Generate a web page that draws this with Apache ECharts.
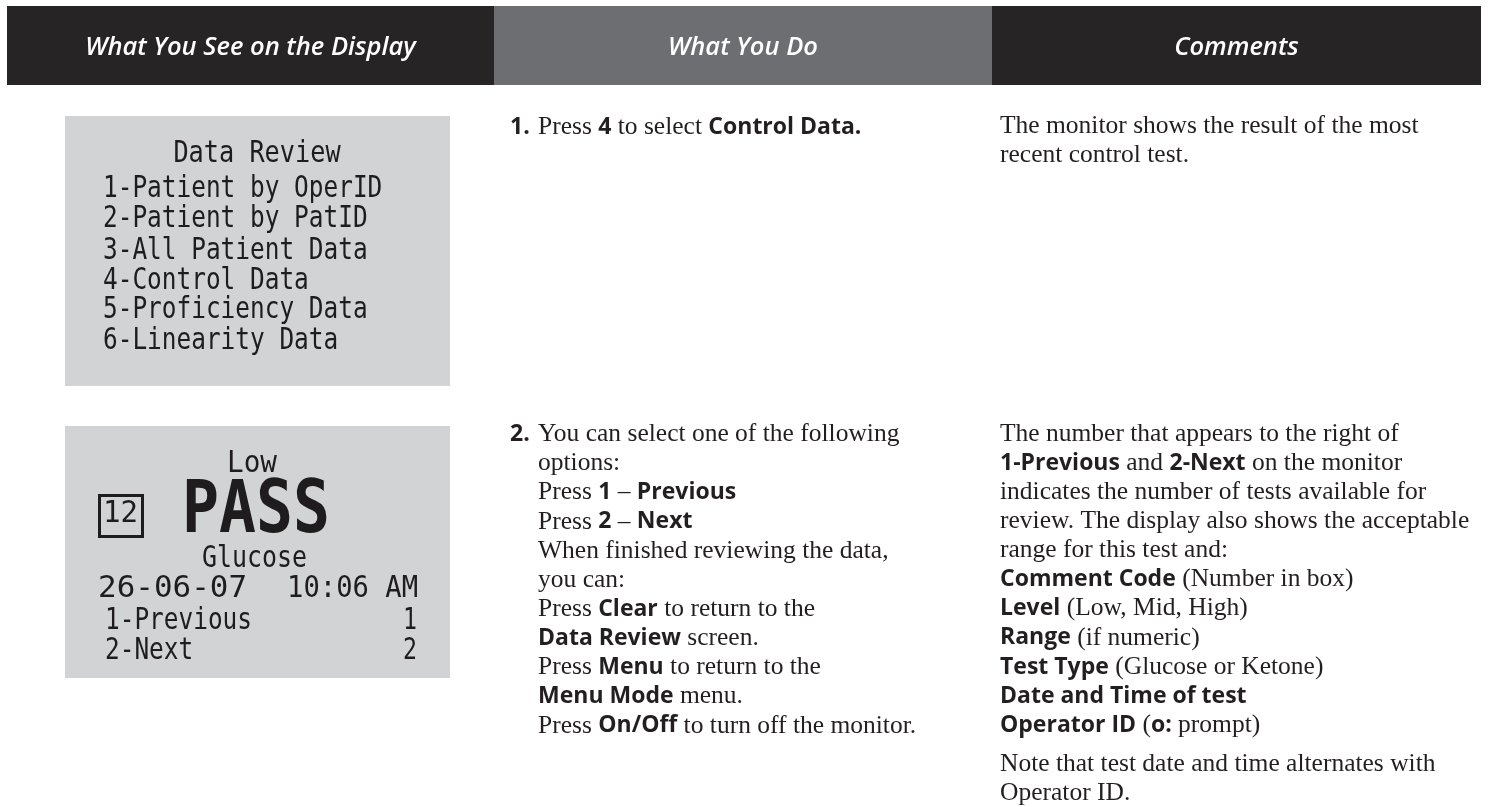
<!DOCTYPE html>
<html><head><meta charset="utf-8">
<script src="https://cdn.jsdelivr.net/npm/echarts@6/dist/echarts.min.js"></script>
<style>html,body{margin:0;padding:0;background:#fff}#chart{width:1489px;height:807px}</style>
</head><body><div id="chart"></div>
<script>
// ---------- content ----------
const headers = ['What You See on the Display', 'What You Do', 'Comments'];
const menuTitle = 'Data Review';
const menuItems = ['1-Patient by OperID', '2-Patient by PatID', '3-All Patient Data', '4-Control Data', '5-Proficiency Data', '6-Linearity Data'];
const controlLevel = 'Low';
const controlResult = 'PASS';
const commentCode = '12';
const testType = 'Glucose';
const testDate = '26-06-07';
const testTime = '10:06 AM';
const navLabels = ['1-Previous', '2-Next'];
const navCounts = ['1', '2'];
const stepNumbers = ['1.', '2.'];
const step1Lines = ['Press {b|4} to select {b|Control Data.}'];
const step2Lines = [
  'You can select one of the following',
  'options:',
  'Press {b|1} – {b|Previous}',
  'Press {b|2} – {b|Next}',
  'When finished reviewing the data,',
  'you can:',
  'Press {b|Clear} to return to the',
  '{b|Data Review} screen.',
  'Press {b|Menu} to return to the',
  '{b|Menu Mode} menu.',
  'Press {b|On/Off} to turn off the monitor.'
];
const comment1Lines = ['The monitor shows the result of the most', 'recent control test.'];
const comment2Lines = [
  'The number that appears to the right of',
  '{b|1-Previous} and {b|2-Next} on the monitor',
  'indicates the number of tests available for',
  'review. The display also shows the acceptable',
  'range for this test and:',
  '{b|Comment Code} (Number in box)',
  '{b|Level} (Low, Mid, High)',
  '{b|Range} (if numeric)',
  '{b|Test Type} (Glucose or Ketone)',
  '{b|Date and Time of test}',
  '{b|Operator ID} ({b|o:} prompt)'
];
const noteLines = ['Note that test date and time alternates with', 'Operator ID.'];

// ---------- styling / layout ----------
const INK = '#231f20';
const DARK = '#262425';
const MID = '#6d6e71';
const LCD_BG = '#d1d3d4';
const SERIF_FS = 25.5;
const SERIF = SERIF_FS + 'px "Liberation Serif"';
const BOLD_FS = 23;
const LINE = 29.15;

const cv = document.createElement('canvas').getContext('2d');
function measure(text, font) { cv.font = font; return cv.measureText(text).width; }

function lcd(text, x, capTop, capH, opts) {
  opts = opts || {};
  const fs = capH / 0.729;
  const font = (opts.bold ? 'bold ' : '') + fs.toFixed(2) + 'px "DejaVu Sans Mono"';
  const w = measure(text, font);
  const target = opts.width != null ? opts.width : (opts.charW || 14.7) * text.length;
  const align = opts.align || 'left';
  return {
    type: 'text', silent: true, x: x, y: capTop + capH / 2 + 0.018 * fs,
    scaleX: target / w, scaleY: 1,
    style: { text: text, font: font, fill: '#1e1c1d', align: align, textAlign: align, verticalAlign: 'middle', textVerticalAlign: 'middle' }
  };
}

function richLine(text, x, baseline) {
  return {
    type: 'text', silent: true, x: x, y: baseline - 0.3375 * SERIF_FS,
    style: {
      text: text, font: SERIF, fill: INK, align: 'left', textAlign: 'left',
      verticalAlign: 'middle', textVerticalAlign: 'middle',
      rich: { b: { fontFamily: 'Open Sans', fontWeight: 700, fontSize: BOLD_FS, fill: INK } }
    }
  };
}

const els = [];
// header bar
const cols = [[7, 494, DARK], [494, 992, MID], [992, 1481, DARK]];
cols.forEach((c, i) => {
  els.push({ type: 'rect', silent: true, shape: { x: c[0], y: 6, width: c[1] - c[0], height: 79 }, style: { fill: c[2] } });
  els.push({ type: 'text', silent: true, x: (c[0] + c[1]) / 2, y: 47.5,
    style: { text: headers[i], font: 'italic 600 25.5px "Open Sans"', fill: '#ffffff', align: 'center', textAlign: 'center', verticalAlign: 'middle', textVerticalAlign: 'middle' } });
});

// LCD screen 1
els.push({ type: 'rect', silent: true, shape: { x: 65, y: 116, width: 385, height: 270 }, style: { fill: LCD_BG } });
els.push(lcd(menuTitle, 257, 143, 22, { align: 'center', charW: 15.2 }));
const menuTops = [178, 208, 240, 270, 299, 330];
menuItems.forEach((t, i) => els.push(lcd(t, 103, menuTops[i], 22)));

// LCD screen 2
els.push({ type: 'rect', silent: true, shape: { x: 65, y: 426, width: 385, height: 252 }, style: { fill: LCD_BG } });
els.push(lcd(controlLevel, 252, 453, 22, { align: 'center', width: 50 }));
els.push({ type: 'rect', silent: true, shape: { x: 99.5, y: 495.5, width: 43, height: 41 }, style: { fill: 'none', stroke: '#1e1c1d', lineWidth: 3 } });
els.push(lcd(commentCode, 103, 503, 22, { width: 35 }));
els.push(lcd(controlResult, 182, 485, 53, { bold: true, width: 148 }));
els.push(lcd(testType, 254.5, 548, 22, { align: 'center', width: 105 }));
els.push(lcd(testDate, 98, 578, 22, { width: 149 }));
els.push(lcd(testTime, 418, 578, 22, { align: 'right', width: 131 }));
const navTops = [610, 640];
navLabels.forEach((t, i) => {
  els.push(lcd(t, 105, navTops[i], 22));
  els.push(lcd(navCounts[i], 417, navTops[i], 22, { align: 'right', width: 14 }));
});

// What You Do column
const stepBase = [136, 443];
stepNumbers.forEach((n, i) => els.push(richLine('{b|' + n + '}', 510, stepBase[i])));
step1Lines.forEach((t, i) => els.push(richLine(t, 538, stepBase[0] + i * LINE)));
step2Lines.forEach((t, i) => els.push(richLine(t, 538, stepBase[1] + i * LINE)));

// Comments column
comment1Lines.forEach((t, i) => els.push(richLine(t, 1000, 135 + i * LINE)));
comment2Lines.forEach((t, i) => els.push(richLine(t, 1000, 442.5 + i * LINE)));
noteLines.forEach((t, i) => els.push(richLine(t, 1000, 773 + i * LINE)));

const chart = echarts.init(document.getElementById('chart'), null, { renderer: 'canvas' });
chart.setOption({ backgroundColor: '#ffffff', animation: false, graphic: { elements: els } });
</script>
</body></html>
